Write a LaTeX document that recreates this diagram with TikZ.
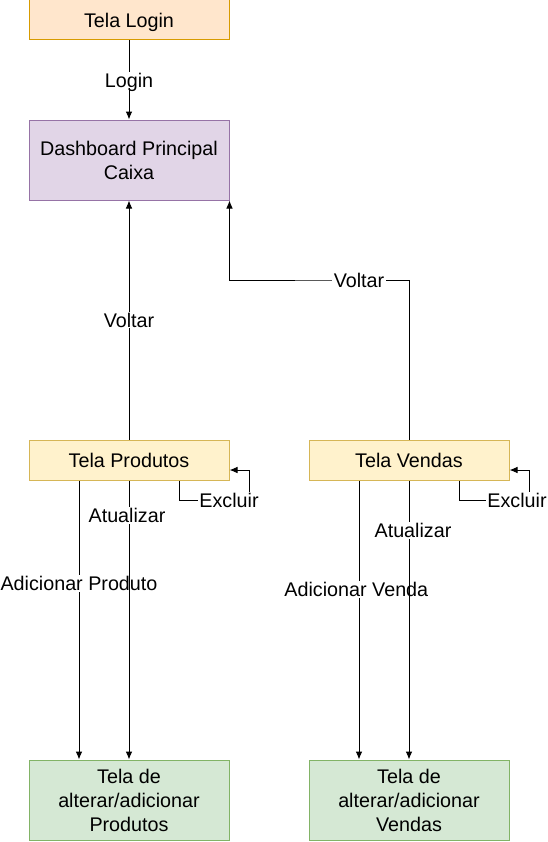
\documentclass[tikz,border=0pt]{standalone}
\usepackage{fontspec}
\setmainfont{Liberation Sans}
\usetikzlibrary{arrows.meta}
\definecolor{loginfill}{HTML}{FFE6CC}
\definecolor{logindraw}{HTML}{D79B00}
\definecolor{dashfill}{HTML}{E1D5E7}
\definecolor{dashdraw}{HTML}{9673A6}
\definecolor{telafill}{HTML}{FFF2CC}
\definecolor{teladraw}{HTML}{D6B656}
\definecolor{altfill}{HTML}{D5E8D4}
\definecolor{altdraw}{HTML}{82B366}
\tikzset{
  screen/.style={draw, line width=0.75pt, minimum width=150pt, minimum height=30pt,
    inner sep=0pt, align=center, text depth=0pt, font=\fontsize{14.8}{18}\selectfont},
  lbl/.style={fill=white, inner sep=1pt, text depth=0pt, font=\fontsize{14.8}{18}\selectfont},
  arr/.style={-{Latex[length=6pt,width=5pt]}, line width=0.75pt}
}
\begin{document}
\begin{tikzpicture}[x=0.75pt,y=-0.75pt]
\useasboundingbox (0,0) rectangle (548,842);
\node[screen, fill=loginfill, draw=logindraw] (login) at (129,20) {Tela Login};
\node[screen, fill=dashfill, draw=dashdraw, minimum height=60pt] (dash) at (129,160) {Dashboard Principal\\Caixa};
\node[screen, fill=telafill, draw=teladraw] (prod) at (129,460) {Tela Produtos};
\node[screen, fill=telafill, draw=teladraw] (vend) at (409,460) {Tela Vendas};
\node[screen, fill=altfill, draw=altdraw, minimum height=60pt] (altprod) at (129,800) {Tela de\\alterar/adicionar\\Produtos};
\node[screen, fill=altfill, draw=altdraw, minimum height=60pt] (altvend) at (409,800) {Tela de\\alterar/adicionar\\Vendas};
\draw[arr] (login) -- (dash) node[lbl, midway] {Login};
\draw[arr] (prod) -- (dash) node[lbl, midway] {Voltar};
\draw[arr] (vend.north) |- (359,280) node[lbl] {Voltar} -| (dash.south east);
\draw[arr] ([xshift=37.5pt]prod.south) |- (229,500) node[lbl] {Excluir} -| (249,470) -- ([yshift=-7.5pt]prod.east);
\draw[arr] ([xshift=37.5pt]vend.south) |- (517,500) node[lbl] {Excluir} -| (529,470) -- ([yshift=-7.5pt]vend.east);
\draw[arr] ([xshift=-37.5pt]prod.south) -- ([xshift=-37.5pt]altprod.north) node[lbl, pos=0.37] {Adicionar Produto};
\draw[arr] (prod) -- (altprod) node[lbl, pos=0.125, xshift=-1.5pt] {Atualizar};
\draw[arr] ([xshift=-37.5pt]vend.south) -- ([xshift=-37.5pt]altvend.north) node[lbl, pos=0.39, xshift=-2pt] {Adicionar Venda};
\draw[arr] (vend) -- (altvend) node[lbl, pos=0.18, xshift=3pt] {Atualizar};
\end{tikzpicture}
\end{document}
